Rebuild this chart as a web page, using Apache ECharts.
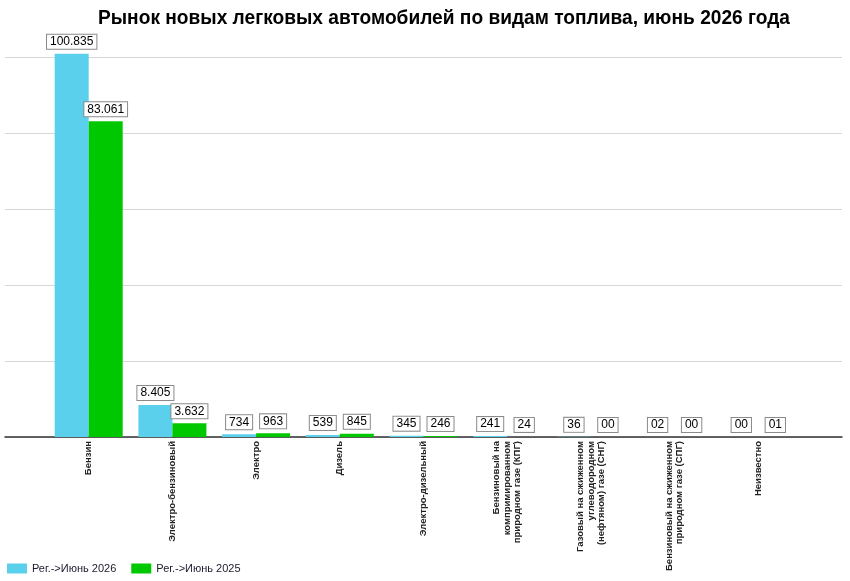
<!DOCTYPE html>
<html>
<head>
<meta charset="utf-8">
<script src="https://cdn.jsdelivr.net/npm/echarts@6/dist/echarts.min.js"></script>
<style>
  html, body { margin: 0; padding: 0; background: #fff; }
  #chart { width: 850px; height: 581px; }
</style>
</head>
<body>
<div id="chart"></div>
<script>
// виды топлива
const categories = [
  "Бензин",
  "Электро-бензиновый",
  "Электро",
  "Дизель",
  "Электро-дизельный",
  "Бензиновый на\nкомпримированном\nприродном газе (КПГ)",
  "Газовый на сжиженном\nуглеводородном\n(нефтяном) газе (СНГ)",
  "Бензиновый на сжиженном\nприродном газе (СПГ)",
  "Неизвестно"
];
const june2026 = [100835, 8405, 734, 539, 345, 241, 36, 2, 0];
const june2025 = [83061, 3632, 963, 845, 246, 24, 0, 0, 1];
const seriesNames = ["Рег.->Июнь 2026", "Рег.->Июнь 2025"];
const titleText = "Рынок новых легковых автомобилей по видам топлива, июнь 2026 года";

// пустые позиции по краям оси, чтобы столбцы стояли с отступом
const pad = (arr, empty) => [empty].concat(arr, [empty]);

// 100835 -> "100.835", 2 -> "02"
function fmt(v) {
  if (v >= 1000) return String(v).replace(/\B(?=(\d{3})+(?!\d))/g, ".");
  return String(v).padStart(2, "0");
}

// заголовок узкого начертания: сжимаем обычный шрифт по ширине
const titleFont = "bold 21px 'Liberation Sans'";
const ctx = document.createElement("canvas").getContext("2d");
ctx.font = titleFont;
const titleScale = 692 / ctx.measureText(titleText).width;

const valueLabel = {
  show: true,
  position: "top",
  distance: 5,
  formatter: (p) => fmt(p.value),
  fontFamily: "Liberation Sans",
  fontSize: 12,
  color: "#000",
  backgroundColor: "#fff",
  borderColor: "#8a8a8a",
  borderWidth: 1,
  padding: [1, 3],
  lineHeight: 12
};

const myChart = echarts.init(document.getElementById("chart"));
const option = {
  animation: false,
  graphic: [
    {
      type: "text",
      x: 444,
      y: 8,
      scaleX: titleScale,
      style: {
        text: titleText,
        font: titleFont,
        fill: "#000",
        align: "center",
        verticalAlign: "top"
      }
    }
  ],
  legend: {
    left: 7,
    top: 563,
    padding: 0,
    itemWidth: 20,
    itemHeight: 10,
    itemGap: 15,
    icon: "rect",
    data: seriesNames,
    textStyle: { fontFamily: "Liberation Sans", fontSize: 11, color: "#1a1a2e" }
  },
  grid: { left: 5, right: 8, top: 38, bottom: 144, containLabel: false },
  xAxis: {
    type: "category",
    boundaryGap: false,
    data: pad(categories, ""),
    axisLine: { lineStyle: { color: "#333", width: 1.5 } },
    axisTick: { show: false },
    axisLabel: {
      interval: 0,
      rotate: 90,
      margin: 4,
      fontFamily: "Liberation Sans",
      fontWeight: "bold",
      fontSize: 9.5,
      lineHeight: 10.5,
      color: "#222"
    }
  },
  yAxis: {
    type: "value",
    min: 0,
    max: 105000,
    interval: 20000,
    axisLabel: { show: false },
    axisLine: { show: false },
    axisTick: { show: false },
    splitLine: { showMaxLine: false, lineStyle: { color: "#d6d6d6" } }
  },
  series: [
    {
      name: seriesNames[0],
      type: "bar",
      barWidth: 34,
      barGap: "0%",
      itemStyle: { color: "#5bd0ec" },
      label: valueLabel,
      data: pad(june2026, "-")
    },
    {
      name: seriesNames[1],
      type: "bar",
      barWidth: 34,
      barGap: "0%",
      itemStyle: { color: "#00c800" },
      label: valueLabel,
      data: pad(june2025, "-")
    }
  ]
};
myChart.setOption(option);
</script>
</body>
</html>
